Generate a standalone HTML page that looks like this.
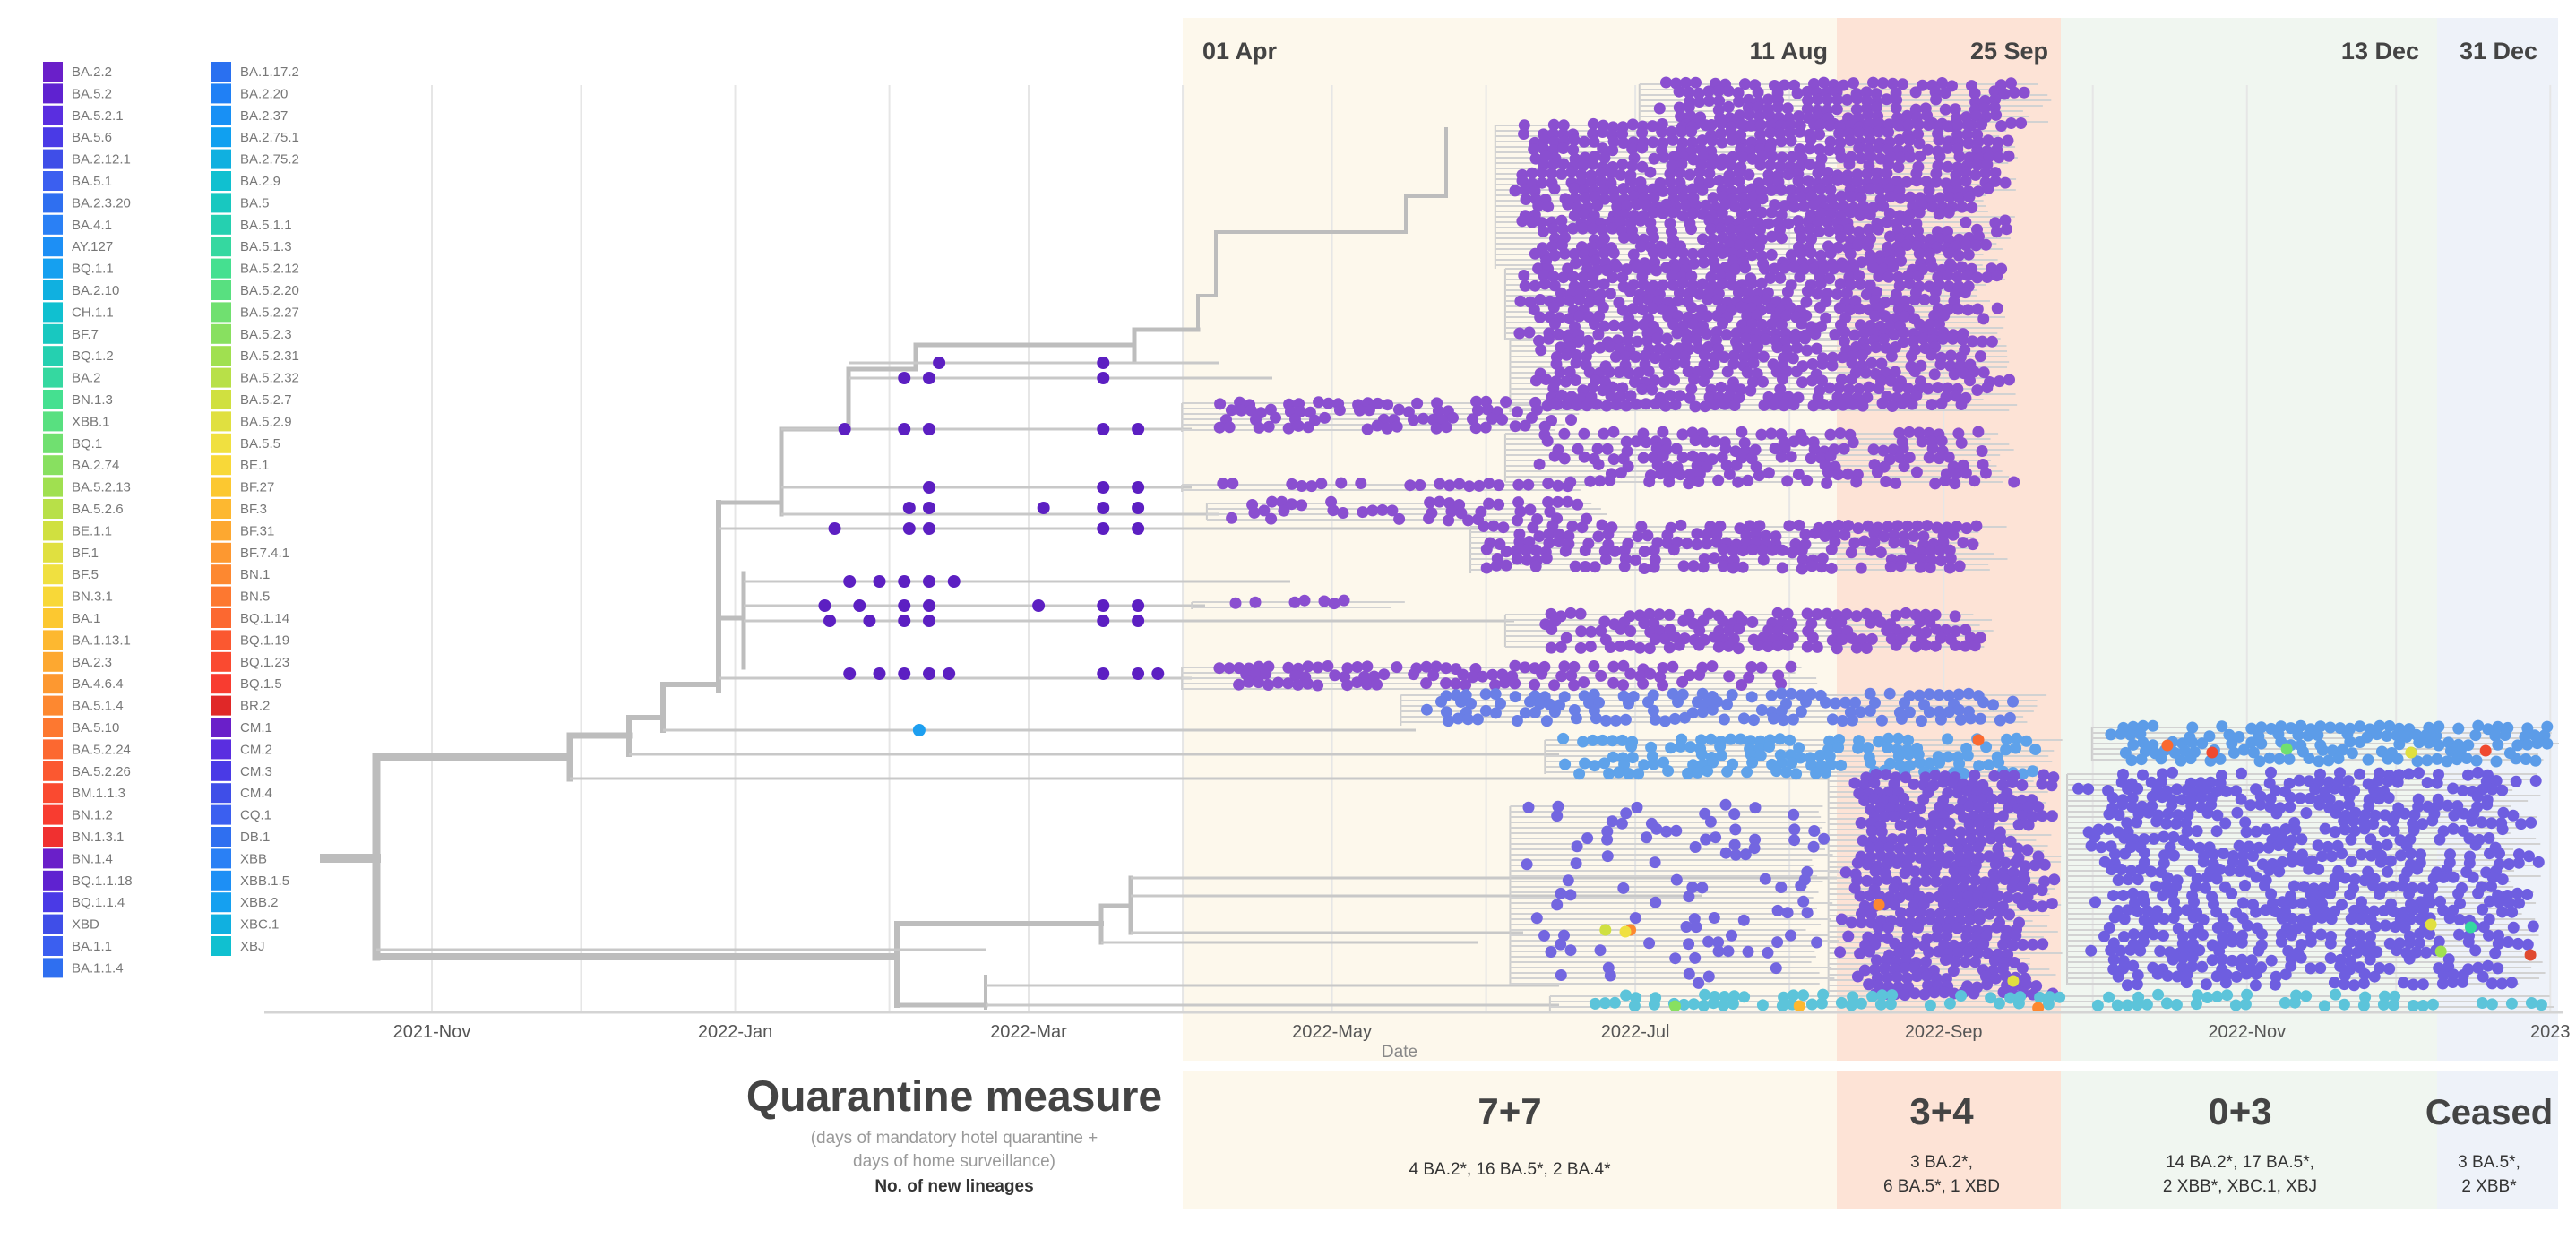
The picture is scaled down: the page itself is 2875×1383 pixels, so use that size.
<!DOCTYPE html>
<html><head><meta charset="utf-8"><style>
html,body{margin:0;padding:0;background:#fff;}
svg{display:block;font-family:"Liberation Sans",Arial,sans-serif;}
</style></head><body>
<svg id="fig" width="2875" height="1383" viewBox="0 0 2875 1383" xmlns="http://www.w3.org/2000/svg">
<g id="bands">
<rect x="1320" y="20" width="730" height="1164" fill="#fdf8ec"/>
<rect x="2050" y="20" width="250" height="1164" fill="#fde3d6"/>
<rect x="2300" y="20" width="420" height="1164" fill="#f0f6f0"/>
<rect x="2720" y="20" width="135" height="1164" fill="#eef2f9"/>
<rect x="1320" y="1196" width="730" height="153" fill="#fdf8ec"/>
<rect x="2050" y="1196" width="250" height="153" fill="#fde3d6"/>
<rect x="2300" y="1196" width="420" height="153" fill="#f0f6f0"/>
<rect x="2720" y="1196" width="135" height="153" fill="#eef2f9"/>
</g>
<g id="grid"></g>
<g id="tree"></g>
<g id="dots"></g>
<g id="axis">
<line x1="295" y1="1130" x2="2860" y2="1130" stroke="#d4d4d4" stroke-width="3"/>
</g>
<text x="1562" y="1180" font-size="19" fill="#888" text-anchor="middle">Date</text>
<g id="legend"></g>
<g font-weight="bold" fill="#444" font-size="27">
<text x="1342" y="66">01 Apr</text>
<text x="2040" y="66" text-anchor="end">11 Aug</text>
<text x="2286" y="66" text-anchor="end">25 Sep</text>
<text x="2700" y="66" text-anchor="end">13 Dec</text>
<text x="2745" y="66">31 Dec</text>
</g>
<g text-anchor="middle">
<text x="1065" y="1240" font-size="48" font-weight="bold" fill="#444">Quarantine measure</text>
<text x="1065" y="1276" font-size="19" fill="#999">(days of mandatory hotel quarantine +</text>
<text x="1065" y="1302" font-size="19" fill="#999">days of home surveillance)</text>
<text x="1065" y="1330" font-size="19" font-weight="bold" fill="#333">No. of new lineages</text>
</g>
<g text-anchor="middle" fill="#444">
<text x="1685" y="1255" font-size="42" font-weight="bold">7+7</text>
<text x="1685" y="1311" font-size="19" fill="#333">4 BA.2*, 16 BA.5*, 2 BA.4*</text>
<text x="2167" y="1255" font-size="42" font-weight="bold">3+4</text>
<text x="2167" y="1303" font-size="19" fill="#333">3 BA.2*,</text>
<text x="2167" y="1330" font-size="19" fill="#333">6 BA.5*, 1 XBD</text>
<text x="2500" y="1255" font-size="42" font-weight="bold">0+3</text>
<text x="2500" y="1303" font-size="19" fill="#333">14 BA.2*, 17 BA.5*,</text>
<text x="2500" y="1330" font-size="19" fill="#333">2 XBB*, XBC.1, XBJ</text>
<text x="2778" y="1255" font-size="40" font-weight="bold">Ceased</text>
<text x="2778" y="1303" font-size="19" fill="#333">3 BA.5*,</text>
<text x="2778" y="1330" font-size="19" fill="#333">2 XBB*</text>
</g>
</svg>
<script>
// ---- data ----
const monthDays = [0,30,61,92,120,151,181,212,242,273,304,334,365,395,426];
const tickDays = [0,61,120,181,242,304,365,426];
const tickLabels = ["2021-Nov","2022-Jan","2022-Mar","2022-May","2022-Jul","2022-Sep","2022-Nov","2023"];
const cladeNames = ["A1","A2","A3","A4","B","C","D","E","F","H","I","J","K","L","M","N1","N2","N3","O"];
const cladeStart = [245,216,218,219,153,218,153,158,211,155,218,153,197,226,336,283,331,219,227];
const cladeEnd   = [326,319,317,319,231,319,235,237,317,197,317,279,326,328,428,328,425,283,428];
const cladeTop   = [94,140,300,380,450,484,541,562,588,672,686,745,776,826,812,866,864,900,1112];
const cladeBot   = [140,300,380,460,482,538,549,580,640,680,722,770,810,864,850,1110,1100,1100,1128];
const cladeDensity=[0.7,0.8,0.75,0.75,0.55,0.5,0.4,0.4,0.6,0.3,0.6,0.55,0.6,0.65,0.65,0.8,0.6,0.15,0.4];
const cladeColor = ["#8a4fd0","#8a4fd0","#8a4fd0","#8a4fd0","#8a4fd0","#8a4fd0","#8a4fd0","#8a4fd0","#8a4fd0","#8a4fd0","#8a4fd0","#8a4fd0","#6a7fe6","#5fa2ea","#5c9ce8","#7a55d8","#6e5ee0","#7366e0","#5cc4da"];
const earlyDays = [102,135, 95,100,135, 83,95,100,135,142, 100,135,142, 96,100,123,135,142, 81,96,100,135,142, 84,90,95,100,105, 79,86,95,100,122,135,142, 80,88,95,100,135,142, 84,90,95,100,104,135,142,146];
const earlyY    = [405,405, 422,422,422, 479,479,479,479,479, 544,544,544, 567,567,567,567,567, 590,590,590,590,590, 649,649,649,649,649, 676,676,676,676,676,676,676, 693,693,693,693,693,693, 752,752,752,752,752,752,752,752];
const accentDays = [349,358,373,398,413,311,291,402,404,422,318,236,241,250,275,323,410,240];
const accentY    = [832,840,836,840,838,826,1010,1032,1062,1066,1095,1038,1038,1123,1123,1125,1035,1040];
const accentColor= ["#fa6a30","#f04a30","#70e070","#e0e040","#f04a30","#fa6a30","#fd8830","#e0e040","#a0e050","#e04a30","#e0e040","#d0e040","#fd8830","#88e060","#fdb830","#fd8830","#35d8a0","#f0e040"];
const legend1 = ["BA.2.2","BA.5.2","BA.5.2.1","BA.5.6","BA.2.12.1","BA.5.1","BA.2.3.20","BA.4.1","AY.127","BQ.1.1","BA.2.10","CH.1.1","BF.7","BQ.1.2","BA.2","BN.1.3","XBB.1","BQ.1","BA.2.74","BA.5.2.13","BA.5.2.6","BE.1.1","BF.1","BF.5","BN.3.1","BA.1","BA.1.13.1","BA.2.3","BA.4.6.4","BA.5.1.4","BA.5.10","BA.5.2.24","BA.5.2.26","BM.1.1.3","BN.1.2","BN.1.3.1","BN.1.4","BQ.1.1.18","BQ.1.1.4","XBD","BA.1.1","BA.1.1.4"];
const legend1Colors = ["#6a1fc9","#5f22d0","#5a2ee0","#4a3ae6","#3f4ee8","#3b5ff0","#2f6ff0","#2a80f5","#1d8ff5","#15a0f0","#10b0e0","#10c0d0","#18c8c0","#25d0b0","#35d8a0","#45e090","#58e080","#70e070","#88e060","#a0e050","#b8e048","#d0e040","#e0e040","#f0e040","#f8d838","#fcc830","#fdb830","#fda830","#fd9830","#fd8830","#fd7830","#fc6830","#fb5830","#fa4a30","#f83c30","#f03030","#6a1fc9","#5f22d0","#4a3ae6","#3f4ee8","#3b5ff0","#2f6ff0"];
const legend2 = ["BA.1.17.2","BA.2.20","BA.2.37","BA.2.75.1","BA.2.75.2","BA.2.9","BA.5","BA.5.1.1","BA.5.1.3","BA.5.2.12","BA.5.2.20","BA.5.2.27","BA.5.2.3","BA.5.2.31","BA.5.2.32","BA.5.2.7","BA.5.2.9","BA.5.5","BE.1","BF.27","BF.3","BF.31","BF.7.4.1","BN.1","BN.5","BQ.1.14","BQ.1.19","BQ.1.23","BQ.1.5","BR.2","CM.1","CM.2","CM.3","CM.4","CQ.1","DB.1","XBB","XBB.1.5","XBB.2","XBC.1","XBJ"];
const legend2Colors = ["#2a70f0","#2080f5","#1890f5","#10a0f0","#10b0e0","#10c0d0","#18c8c0","#25d0b0","#35d8a0","#45e090","#58e080","#70e070","#88e060","#a0e050","#b8e048","#d0e040","#e0e040","#f0e040","#f8d838","#fcc830","#fdb830","#fda830","#fd9830","#fd8830","#fd7830","#fc6830","#fb5830","#fa4a30","#f83c30","#e02828","#6a1fc9","#5a2ee0","#4a3ae6","#3f4ee8","#3b5ff0","#2f6ff0","#2a80f5","#1d8ff5","#15a0f0","#10b0e0","#10c0d0"];
const backbone = [[362,958,420,958,10],[420,845,420,1068,9],[420,845,636,845,8],[636,821,636,869,7],[636,821,702,821,7],[702,801,702,842,6],[702,801,740,801,6],[740,764,740,815,6],[740,764,802,764,6],[802,561,802,770,6],[802,561,872,561,5],[872,479,872,574,5],[872,479,947,479,5],[947,412,947,479,5],[947,412,1022,412,5],[1022,385,1022,412,5],[1022,385,1266,385,5],[1266,368,1266,402,5],[1266,368,1337,368,5],[1337,330,1337,368,4],[1337,330,1357,330,4],[1357,259,1357,330,4],[1357,259,1569,259,4],[1569,219,1569,259,4],[1569,219,1614,219,4],[1614,144,1614,219,4],[802,690,830,690,5],[830,640,830,745,5],[420,1068,1001,1068,8],[1001,1031,1001,1122,6],[1001,1031,1229,1031,6],[1229,1011,1229,1052,5],[1229,1011,1262,1011,5],[1262,980,1262,1041,5],[1001,1122,1100,1122,5],[1100,1090,1100,1125,4]];
const thinBranches = [[636,869,2040],[702,842,1740],[740,815,1580],[947,405,1360],[947,422,1420],[872,479,1330],[872,544,1330],[872,574,1360],[802,590,1650],[830,649,1440],[830,676,1345],[830,693,1690],[802,757,1330],[1262,980,2050],[1262,1000,1900],[1262,1041,1700],[1229,1052,1650],[1100,1100,1740],[1100,1122,1740],[420,1060,1100]];

const NS="http://www.w3.org/2000/svg";
function xd(d){return 482 + d*5.55;}
function mk(tag,attrs,parent){const e=document.createElementNS(NS,tag);for(const k in attrs)e.setAttribute(k,attrs[k]);parent.appendChild(e);return e;}
function hsh(a,b,c){let h=(a*73856093)^(b*19349663)^(c*83492791);h=(h^(h>>>13))*1274126177;h=h^(h>>>16);return ((h>>>0)%1000)/1000;}

const grid=document.getElementById('grid');
monthDays.forEach(d=>{
  const l=mk('line',{x1:xd(d),x2:xd(d),y1:95,y2:1130,stroke:'#e6e6e6','stroke-width':2},grid);
  
  
});
const axis=document.getElementById('axis');
tickDays.forEach((d,i)=>{
  const t=mk('text',{x:xd(d),y:1158,'font-size':20,fill:'#555','text-anchor':'middle'},axis);
  t.textContent=tickLabels[i];
  
  
});

const tree=document.getElementById('tree');
backbone.forEach(b=>{
  const l=mk('line',{x1:b[0],y1:b[1],x2:b[2],y2:b[3],stroke:'#bdbdbd','stroke-width':b[4],'stroke-linecap':'square'},tree);
  
  
});
thinBranches.forEach(b=>{
  const l=mk('line',{x1:b[0],y1:b[1],x2:b[2],y2:b[1],stroke:'#c8c8c8','stroke-width':3},tree);
  
  
});
cladeNames.forEach((n,i)=>{
  const x0=xd(cladeStart[i])-12;
  const v=mk('line',{x1:x0,y1:cladeTop[i],x2:x0,y2:cladeBot[i],stroke:'#cdcdcd','stroke-width':2},tree);
  
  
  for(let y=cladeTop[i],r=0;y<=cladeBot[i];y+=6,r++){
    const h=mk('line',{x1:x0,y1:y,x2:xd(cladeEnd[i])-hsh(i,r,5)*40,y2:y,stroke:'#d2d2d2','stroke-width':2},tree);
    
    
  }
});

const dots=document.getElementById('dots');
cladeNames.forEach((n,i)=>{
  const g=mk('g',{fill:cladeColor[i]},dots);
  
  
  const x0=xd(cladeStart[i]), x1=xd(cladeEnd[i]);
  let r=0;
  for(let y=cladeTop[i];y<=cladeBot[i];y+=9,r++){
    const xe=x1-hsh(i,r,1)*60;
    const xs=x0+hsh(i,r,2)*40;
    let k=0;
    for(let x=xs+(r%2)*5.5;x<=xe;x+=11,k++){
      if(hsh(i*31+k,r,3) < cladeDensity[i]){
        const c=mk('circle',{cx:x.toFixed(1),cy:(y+(hsh(k,r,i)-0.5)*4).toFixed(1),r:6.5},g);
        
        
      }
    }
  }
});
const eg=mk('g',{fill:'#5c1fc2'},dots);


earlyDays.forEach((d,i)=>{
  const c=mk('circle',{cx:xd(d),cy:earlyY[i],r:7},eg);
  
  
});
const bl=mk('circle',{cx:xd(98),cy:815,r:7,fill:'#1d9ff0'},dots);


accentDays.forEach((d,i)=>{
  const c=mk('circle',{cx:xd(d),cy:accentY[i],r:6.5,fill:accentColor[i]},dots);
  
  
});

const lg=document.getElementById('legend');
function legendCol(names,colors,sx,tx){
  names.forEach((n,i)=>{
    const cy=80+i*24.4;
    const s=mk('rect',{x:sx,y:cy-11,width:22,height:22,fill:colors[i]},lg);
    
    
    const t=mk('text',{x:tx,y:cy+5,'font-size':15,fill:'#777'},lg);
    t.textContent=n;
    
    
  });
}
legendCol(legend1,legend1Colors,48,80);
legendCol(legend2,legend2Colors,236,268);
</script>
</body></html>
